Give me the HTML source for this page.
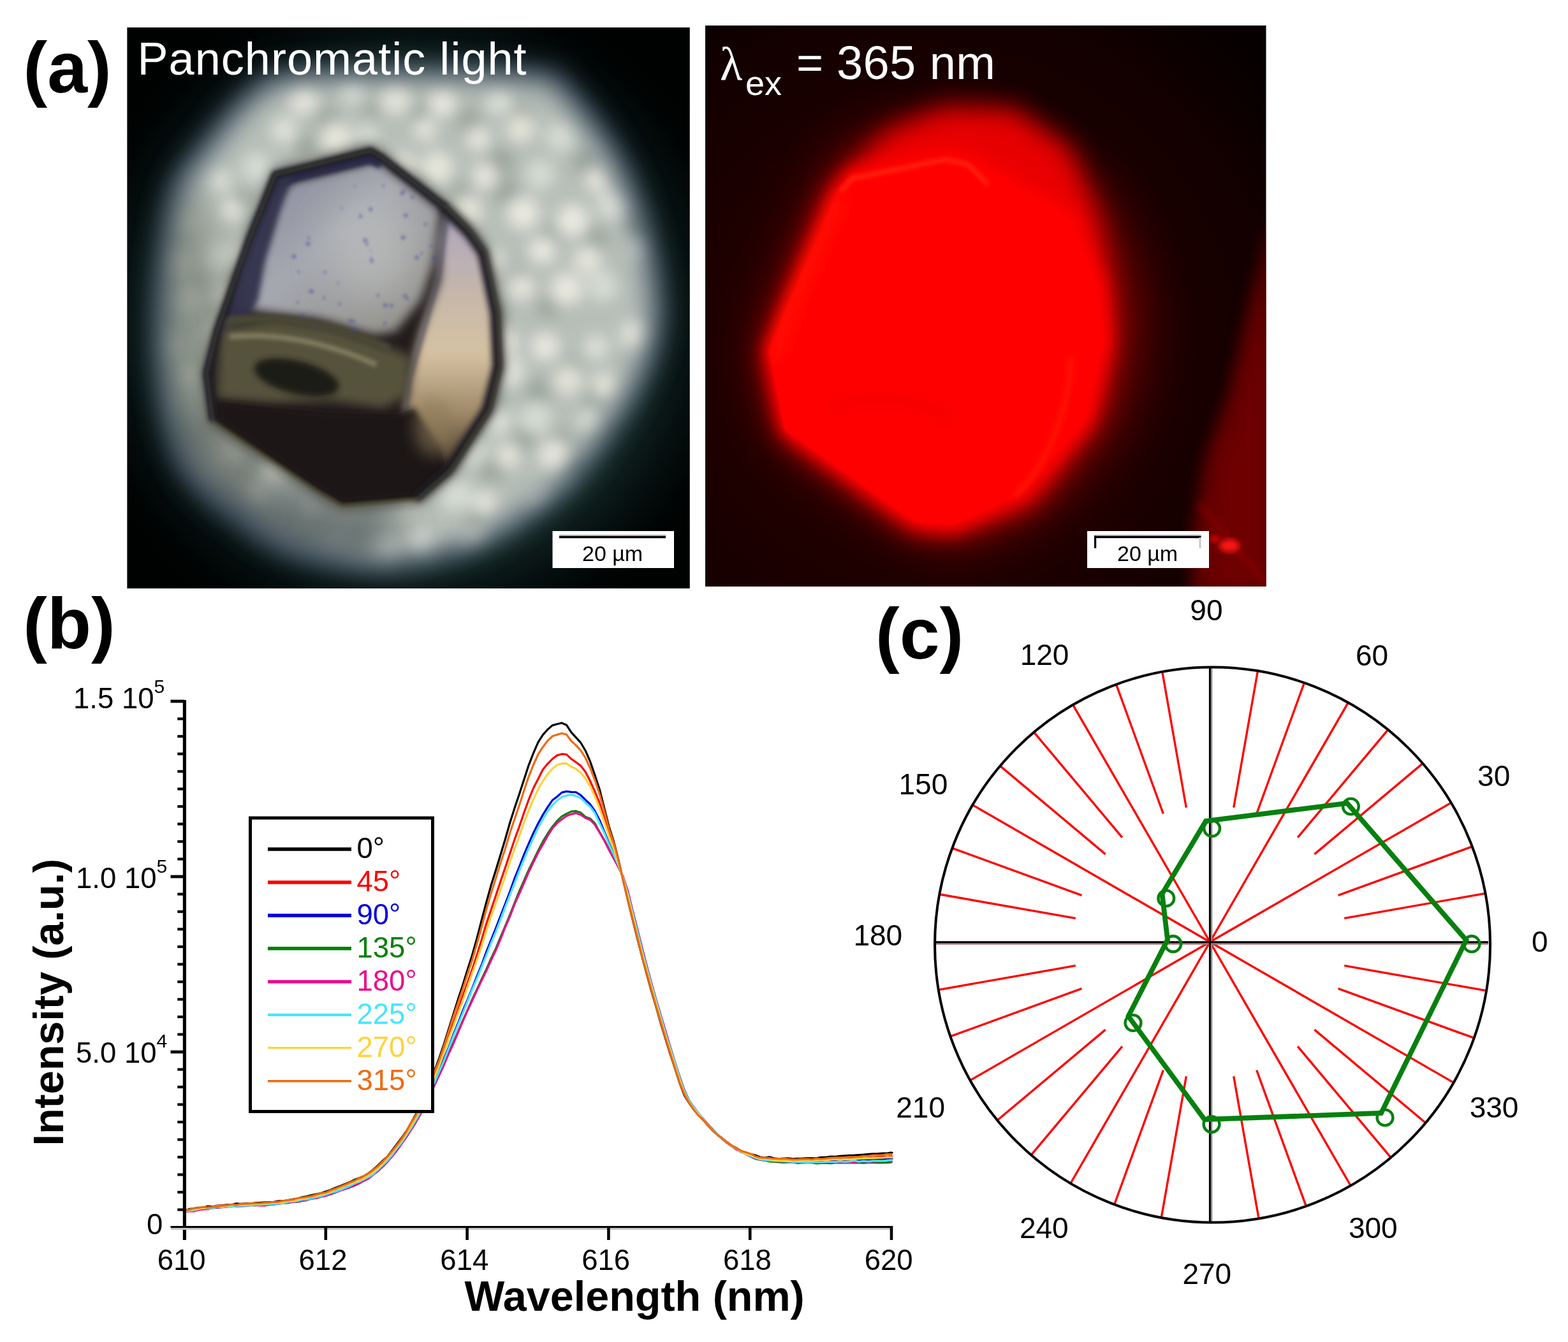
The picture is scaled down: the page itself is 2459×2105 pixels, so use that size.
<!DOCTYPE html>
<html><head><meta charset="utf-8"><title>Figure</title><style>
html,body{margin:0;padding:0;background:#fff;}
svg{display:block;}
text{font-family:"Liberation Sans",Arial,sans-serif;}
.t45{font-size:45.5px;fill:#000;}
.t46{font-size:46px;fill:#000;}
.t34{font-size:34px;fill:#000;}
.sup{font-size:30px;}
.tb66{font-size:66.5px;font-weight:bold;fill:#000;}
.tb112{font-size:113px;font-weight:bold;fill:#000;}
.tw72{font-size:72px;fill:#fff;}
.tw74{font-size:74px;fill:#fff;}
.tw54{font-size:54px;fill:#fff;}
</style></head>
<body>
<svg width="2459" height="2105" viewBox="0 0 2459 2105">
<defs>
<clipPath id="clipL"><rect x="199.6" y="43.2" width="881.9" height="879.8"/></clipPath>
<clipPath id="clipR"><rect x="1106" y="40" width="879.5" height="880"/></clipPath>
<filter id="b2" x="-20%" y="-20%" width="140%" height="140%"><feGaussianBlur stdDeviation="2"/></filter>
<filter id="b3" x="-20%" y="-20%" width="140%" height="140%"><feGaussianBlur stdDeviation="3"/></filter>
<filter id="b5" x="-20%" y="-20%" width="140%" height="140%"><feGaussianBlur stdDeviation="5"/></filter>
<filter id="b8" x="-20%" y="-20%" width="140%" height="140%"><feGaussianBlur stdDeviation="8"/></filter>
<filter id="b12" x="-30%" y="-30%" width="160%" height="160%"><feGaussianBlur stdDeviation="12"/></filter>
<filter id="b20" x="-50%" y="-50%" width="200%" height="200%"><feGaussianBlur stdDeviation="20"/></filter>
<filter id="b30" x="-50%" y="-50%" width="200%" height="200%"><feGaussianBlur stdDeviation="30"/></filter>
<filter id="b45" x="-50%" y="-50%" width="200%" height="200%"><feGaussianBlur stdDeviation="45"/></filter>
<radialGradient id="hazeL" gradientUnits="userSpaceOnUse" cx="640" cy="500" r="560">
  <stop offset="0.6" stop-color="#1a3430"/><stop offset="0.7" stop-color="#10221f"/><stop offset="0.8" stop-color="#061010"/><stop offset="0.9" stop-color="#010404"/><stop offset="1" stop-color="#000101"/>
</radialGradient>
<mask id="diskMask" maskUnits="userSpaceOnUse" x="199" y="43" width="883" height="881">
  <path d="M456.9 128.8 C497.8 122.0 576.8 122.8 640.0 122.8 C703.2 122.8 796.4 124.5 836.0 128.8 C875.6 133.0 858.6 129.7 877.6 148.6 C896.6 167.4 930.9 210.8 949.9 241.6 C968.8 272.5 980.7 303.0 991.5 333.7 C1002.2 364.4 1009.6 395.2 1014.2 425.8 C1018.8 456.3 1023.8 486.3 1019.2 516.8 C1014.6 547.4 1001.8 578.7 986.5 608.9 C971.2 639.1 945.2 673.2 927.1 698.0 C909.0 722.8 895.8 740.1 877.6 757.4 C859.5 774.7 839.2 787.8 818.2 802.0 C797.2 816.1 777.0 831.6 751.9 842.5 C726.8 853.4 695.8 861.7 667.7 867.3 C639.7 872.9 618.7 879.0 583.6 876.2 C548.4 873.4 492.0 863.8 456.9 850.5 C421.7 837.1 395.3 812.3 372.7 796.0 C350.1 779.7 335.4 768.8 321.2 752.5 C307.0 736.1 296.8 723.6 287.6 698.0 C278.3 672.4 270.1 632.0 265.8 599.0 C261.5 566.0 261.3 533.0 261.8 500.0 C262.3 467.0 264.5 434.0 268.8 401.0 C273.0 368.0 277.2 329.2 287.6 302.0 C298.0 274.8 313.3 260.8 331.1 237.6 C348.9 214.5 373.5 181.5 394.5 163.4 C415.4 145.2 415.9 135.5 456.9 128.8 Z" fill="#fff" filter="url(#b20)"/>
</mask>
<linearGradient id="upperG" x1="0" y1="0" x2="1" y2="1">
  <stop offset="0" stop-color="#7e8094"/><stop offset="0.45" stop-color="#a6a8b0"/><stop offset="1" stop-color="#8e8c82"/>
</linearGradient>
<linearGradient id="rightFace" x1="0" y1="0" x2="0" y2="1">
  <stop offset="0" stop-color="#aea6c0"/><stop offset="0.3" stop-color="#c4b6aa"/><stop offset="0.55" stop-color="#d6c2a2"/><stop offset="0.8" stop-color="#9c8666"/><stop offset="1" stop-color="#3e3226"/>
</linearGradient>
<radialGradient id="bgR" gradientUnits="userSpaceOnUse" cx="1450" cy="560" r="700">
  <stop offset="0" stop-color="#2a0000"/><stop offset="0.55" stop-color="#1c0000"/><stop offset="0.8" stop-color="#120000"/><stop offset="1" stop-color="#060000"/>
</radialGradient>
</defs>
<rect width="2459" height="2105" fill="#fff"/>
<g clip-path="url(#clipL)">
<rect x="199" y="43" width="883" height="881" fill="#010202"/>
<rect x="199" y="43" width="883" height="881" fill="url(#hazeL)"/>
<path d="M445.8 106.2 C489.1 99.1 573.0 99.9 640.0 99.9 C707.0 99.9 805.9 101.7 847.9 106.2 C889.9 110.8 871.9 107.3 892.0 127.2 C912.1 147.2 948.5 193.2 968.7 225.9 C988.8 258.7 1001.4 291.1 1012.8 323.6 C1024.1 356.2 1032.0 388.9 1036.9 421.2 C1041.8 453.6 1047.1 485.5 1042.2 517.9 C1037.2 550.2 1023.8 583.5 1007.5 615.5 C991.2 647.5 963.8 683.8 944.5 710.0 C925.2 736.2 911.2 754.6 892.0 773.0 C872.8 791.4 851.2 805.2 829.0 820.2 C806.8 835.3 785.2 851.8 758.6 863.3 C732.0 874.8 699.1 883.6 669.4 889.5 C639.6 895.5 617.4 902.0 580.1 899.0 C542.9 896.0 483.0 885.9 445.8 871.7 C408.5 857.5 380.5 831.3 356.5 814.0 C332.5 796.6 316.9 785.1 301.9 767.8 C286.8 750.4 276.0 737.1 266.2 710.0 C256.4 682.9 247.6 640.0 243.1 605.0 C238.5 570.0 238.4 535.0 238.9 500.0 C239.4 465.0 241.7 430.0 246.2 395.0 C250.8 360.0 255.2 318.9 266.2 290.0 C277.2 261.1 293.5 246.2 312.4 221.8 C331.3 197.2 357.4 162.2 379.6 143.0 C401.8 123.8 402.4 113.4 445.8 106.2 Z" fill="#4a5a70" filter="url(#b20)" opacity="0.8"/>
<g mask="url(#diskMask)">
<rect x="199" y="43" width="883" height="881" fill="#b6beb8"/>
<g filter="url(#b12)" opacity="0.7"><circle cx="513" cy="186.7" r="19.4" fill="#8e9a90"/><circle cx="582.6" cy="170.9" r="14.6" fill="#8e9a90"/><circle cx="662.5" cy="178.2" r="20" fill="#8e9a90"/><circle cx="734.8" cy="188.2" r="19.6" fill="#8e9a90"/><circle cx="814" cy="182.8" r="19.2" fill="#8e9a90"/><circle cx="480.4" cy="231.4" r="20.4" fill="#8e9a90"/><circle cx="563.9" cy="242.8" r="18.1" fill="#8e9a90"/><circle cx="784.6" cy="253.4" r="21.8" fill="#8e9a90"/><circle cx="917" cy="253.3" r="19.8" fill="#8e9a90"/><circle cx="385.7" cy="312" r="16" fill="#8e9a90"/><circle cx="521.8" cy="301.7" r="16.2" fill="#8e9a90"/><circle cx="596.2" cy="301.5" r="19.9" fill="#8e9a90"/><circle cx="660.9" cy="282.5" r="16.5" fill="#8e9a90"/><circle cx="722.1" cy="301.9" r="16.8" fill="#8e9a90"/><circle cx="793.7" cy="300.6" r="21" fill="#8e9a90"/><circle cx="401.4" cy="356.5" r="14.5" fill="#8e9a90"/><circle cx="482.7" cy="366.8" r="15.1" fill="#8e9a90"/><circle cx="542.8" cy="385.2" r="15.2" fill="#8e9a90"/><circle cx="627.7" cy="365.3" r="15.5" fill="#8e9a90"/><circle cx="691.6" cy="379.7" r="15.8" fill="#8e9a90"/><circle cx="863.5" cy="372.1" r="16.3" fill="#8e9a90"/><circle cx="932.7" cy="375.1" r="20.6" fill="#8e9a90"/><circle cx="1004.9" cy="353.1" r="21.9" fill="#8e9a90"/><circle cx="308.9" cy="445.3" r="14.8" fill="#8e9a90"/><circle cx="377.5" cy="441.9" r="20.9" fill="#8e9a90"/><circle cx="670.3" cy="418.5" r="17.7" fill="#8e9a90"/><circle cx="755.3" cy="444.7" r="17.7" fill="#8e9a90"/><circle cx="814.2" cy="436.9" r="16.1" fill="#8e9a90"/><circle cx="329.4" cy="496.6" r="20.7" fill="#8e9a90"/><circle cx="475.1" cy="499.9" r="15.2" fill="#8e9a90"/><circle cx="548.4" cy="475.7" r="21.5" fill="#8e9a90"/><circle cx="712.3" cy="508.2" r="16.4" fill="#8e9a90"/><circle cx="777.3" cy="491.1" r="18.8" fill="#8e9a90"/><circle cx="858.9" cy="481.7" r="17.3" fill="#8e9a90"/><circle cx="293.1" cy="575.3" r="17.6" fill="#8e9a90"/><circle cx="384.7" cy="547.3" r="21.1" fill="#8e9a90"/><circle cx="597.5" cy="559.5" r="19.8" fill="#8e9a90"/><circle cx="736.5" cy="567" r="19.6" fill="#8e9a90"/><circle cx="894.4" cy="582.8" r="20.7" fill="#8e9a90"/><circle cx="405.5" cy="645.9" r="18.8" fill="#8e9a90"/><circle cx="468.4" cy="603.8" r="16.8" fill="#8e9a90"/><circle cx="638.3" cy="609.4" r="15.7" fill="#8e9a90"/><circle cx="704.5" cy="627.4" r="21.5" fill="#8e9a90"/><circle cx="778.1" cy="628.9" r="14.2" fill="#8e9a90"/><circle cx="843.7" cy="615.2" r="21.4" fill="#8e9a90"/><circle cx="933" cy="622.5" r="18" fill="#8e9a90"/><circle cx="380.5" cy="687.8" r="16.2" fill="#8e9a90"/><circle cx="435" cy="703.2" r="21.1" fill="#8e9a90"/><circle cx="653.3" cy="683.5" r="17.8" fill="#8e9a90"/><circle cx="821.4" cy="690.3" r="18.8" fill="#8e9a90"/><circle cx="877.7" cy="693.9" r="21.8" fill="#8e9a90"/><circle cx="965.8" cy="699.9" r="15.5" fill="#8e9a90"/><circle cx="396.9" cy="732.5" r="20.5" fill="#8e9a90"/><circle cx="771.5" cy="737.2" r="20.4" fill="#8e9a90"/><circle cx="904.3" cy="740.5" r="21.1" fill="#8e9a90"/><circle cx="745.2" cy="814.1" r="14.4" fill="#8e9a90"/><circle cx="883.3" cy="834.1" r="15" fill="#8e9a90"/><circle cx="950" cy="799.8" r="22" fill="#8e9a90"/><circle cx="642.8" cy="893.8" r="20.2" fill="#8e9a90"/><circle cx="702.6" cy="877.5" r="20.8" fill="#8e9a90"/><circle cx="785.1" cy="887.6" r="21" fill="#8e9a90"/></g>
<g filter="url(#b12)" opacity="0.85"><circle cx="475.9" cy="155.2" r="23.5" fill="#f5f2e8"/><circle cx="552.5" cy="141.8" r="20.6" fill="#e8eae2"/><circle cx="620.3" cy="153.4" r="25.1" fill="#f0eee2"/><circle cx="693.4" cy="159.4" r="23" fill="#f5f2e8"/><circle cx="782.5" cy="157.9" r="20.6" fill="#e8eae2"/><circle cx="445.6" cy="204.6" r="20.9" fill="#e8eae2"/><circle cx="526.7" cy="215.7" r="24.9" fill="#f0eee2"/><circle cx="575.2" cy="211.2" r="18" fill="#dde2da"/><circle cx="666.4" cy="202.3" r="19" fill="#f0eee2"/><circle cx="750.1" cy="218" r="18.5" fill="#f5f2e8"/><circle cx="816" cy="200.8" r="22.9" fill="#f0eee2"/><circle cx="879.7" cy="214.5" r="24" fill="#dde2da"/><circle cx="344.8" cy="283.2" r="18.1" fill="#e8eae2"/><circle cx="402.2" cy="262.2" r="23" fill="#dde2da"/><circle cx="492.8" cy="273.5" r="19.1" fill="#f5f2e8"/><circle cx="566.4" cy="268.6" r="17.3" fill="#dde2da"/><circle cx="631.7" cy="257.9" r="19.1" fill="#f0eee2"/><circle cx="685.4" cy="263.2" r="25.8" fill="#f0eee2"/><circle cx="760.7" cy="275.9" r="19.8" fill="#f5f2e8"/><circle cx="846.8" cy="273.9" r="23.4" fill="#dde2da"/><circle cx="936.2" cy="282.3" r="18.7" fill="#f5f2e8"/><circle cx="283.7" cy="349.8" r="20.1" fill="#dde2da"/><circle cx="362.3" cy="329.9" r="17.2" fill="#f5f2e8"/><circle cx="440" cy="337.1" r="22.3" fill="#dde2da"/><circle cx="507.1" cy="345.7" r="19.1" fill="#f5f2e8"/><circle cx="591" cy="333.4" r="25.1" fill="#f5f2e8"/><circle cx="660" cy="341.7" r="21.2" fill="#f0eee2"/><circle cx="732.6" cy="330.5" r="23.6" fill="#f0eee2"/><circle cx="820.3" cy="334.2" r="25.4" fill="#f5f2e8"/><circle cx="898.1" cy="345.8" r="25.6" fill="#f5f2e8"/><circle cx="961.5" cy="320.9" r="23.7" fill="#e8eae2"/><circle cx="271.4" cy="410.4" r="25.6" fill="#f0eee2"/><circle cx="339.2" cy="402.2" r="21.7" fill="#dde2da"/><circle cx="390.9" cy="403.6" r="22.6" fill="#f5f2e8"/><circle cx="472.7" cy="391.1" r="17.7" fill="#f5f2e8"/><circle cx="545.7" cy="404.6" r="22.2" fill="#e8eae2"/><circle cx="632.5" cy="388.4" r="17.9" fill="#dde2da"/><circle cx="715.6" cy="408" r="20.7" fill="#f5f2e8"/><circle cx="771.9" cy="406.9" r="17.7" fill="#f0eee2"/><circle cx="851" cy="392.7" r="22.1" fill="#f5f2e8"/><circle cx="921.3" cy="407.1" r="22.4" fill="#f0eee2"/><circle cx="1005.9" cy="388.8" r="19.6" fill="#dde2da"/><circle cx="290.6" cy="468.7" r="24.4" fill="#dde2da"/><circle cx="357.8" cy="467.6" r="21.3" fill="#f0eee2"/><circle cx="439.4" cy="465.6" r="25.8" fill="#dde2da"/><circle cx="512" cy="449.8" r="25.4" fill="#f0eee2"/><circle cx="577.6" cy="479.5" r="19.9" fill="#f0eee2"/><circle cx="669.6" cy="474.2" r="23.4" fill="#dde2da"/><circle cx="741.1" cy="452" r="24.1" fill="#f0eee2"/><circle cx="817.9" cy="450.4" r="20.6" fill="#f5f2e8"/><circle cx="888.4" cy="453.5" r="25" fill="#f5f2e8"/><circle cx="945" cy="449.7" r="24" fill="#dde2da"/><circle cx="261" cy="542.7" r="22.6" fill="#f0eee2"/><circle cx="345" cy="516.9" r="24.4" fill="#f0eee2"/><circle cx="390.4" cy="540.6" r="17.8" fill="#f0eee2"/><circle cx="483" cy="536.1" r="19.4" fill="#f5f2e8"/><circle cx="557.6" cy="519.5" r="22.4" fill="#f5f2e8"/><circle cx="612.1" cy="519.6" r="25.1" fill="#dde2da"/><circle cx="703.5" cy="538.6" r="20.3" fill="#f5f2e8"/><circle cx="789.4" cy="536.9" r="21.8" fill="#f5f2e8"/><circle cx="855.1" cy="543.4" r="22.2" fill="#f5f2e8"/><circle cx="935.1" cy="544.3" r="19.1" fill="#e8eae2"/><circle cx="997.7" cy="525.3" r="23.9" fill="#f5f2e8"/><circle cx="293.1" cy="586.6" r="19.5" fill="#e8eae2"/><circle cx="374.5" cy="606" r="25" fill="#dde2da"/><circle cx="426.1" cy="577.7" r="23" fill="#f5f2e8"/><circle cx="517.6" cy="601.3" r="24.8" fill="#dde2da"/><circle cx="596.3" cy="584.2" r="21.7" fill="#e8eae2"/><circle cx="673.7" cy="603" r="18.8" fill="#dde2da"/><circle cx="740.5" cy="589.7" r="24" fill="#f0eee2"/><circle cx="799.2" cy="583.1" r="24.3" fill="#e8eae2"/><circle cx="891.1" cy="595.3" r="24" fill="#f0eee2"/><circle cx="948.2" cy="604.6" r="20.8" fill="#f0eee2"/><circle cx="345.8" cy="658.8" r="23.6" fill="#dde2da"/><circle cx="400.5" cy="672.2" r="21.1" fill="#e8eae2"/><circle cx="484.6" cy="659.8" r="21.9" fill="#dde2da"/><circle cx="554.7" cy="647.2" r="17.6" fill="#f0eee2"/><circle cx="611.5" cy="643.6" r="17.7" fill="#f0eee2"/><circle cx="713.3" cy="657.4" r="20.5" fill="#dde2da"/><circle cx="780.3" cy="660.9" r="20.2" fill="#e8eae2"/><circle cx="840.6" cy="654.9" r="25" fill="#dde2da"/><circle cx="924" cy="662" r="17.6" fill="#e8eae2"/><circle cx="357.9" cy="706.5" r="21.7" fill="#f0eee2"/><circle cx="429.6" cy="734.7" r="20.3" fill="#f5f2e8"/><circle cx="530" cy="707.5" r="19.5" fill="#f0eee2"/><circle cx="593.7" cy="720.3" r="22.4" fill="#f0eee2"/><circle cx="676" cy="734.9" r="22.5" fill="#f5f2e8"/><circle cx="737.6" cy="707.1" r="24.6" fill="#dde2da"/><circle cx="796.8" cy="715.1" r="19.8" fill="#f0eee2"/><circle cx="870.1" cy="713.3" r="25.5" fill="#f5f2e8"/><circle cx="963.3" cy="713.4" r="21.8" fill="#dde2da"/><circle cx="399.5" cy="778.1" r="22.6" fill="#f5f2e8"/><circle cx="488.4" cy="798.6" r="18" fill="#f5f2e8"/><circle cx="540.9" cy="796.8" r="24.1" fill="#f0eee2"/><circle cx="638.8" cy="778.1" r="19.2" fill="#f0eee2"/><circle cx="715" cy="776.5" r="25.5" fill="#dde2da"/><circle cx="760.7" cy="788.6" r="18.9" fill="#f0eee2"/><circle cx="853.2" cy="796.6" r="22.8" fill="#e8eae2"/><circle cx="909.5" cy="773.9" r="21.7" fill="#dde2da"/><circle cx="521.2" cy="844.4" r="21.6" fill="#dde2da"/><circle cx="603.4" cy="859.8" r="22.1" fill="#e8eae2"/><circle cx="659.6" cy="851.6" r="20.1" fill="#e8eae2"/><circle cx="749.6" cy="852.6" r="21.9" fill="#f5f2e8"/><circle cx="820.1" cy="844" r="18.3" fill="#e8eae2"/></g>
<ellipse cx="440" cy="830" rx="190" ry="70" fill="#4e5858" filter="url(#b30)" opacity="0.75"/>
<ellipse cx="280" cy="520" rx="70" ry="230" fill="#6c7468" filter="url(#b30)" opacity="0.6"/>
<ellipse cx="320" cy="740" rx="90" ry="100" fill="#565e5a" filter="url(#b30)" opacity="0.65"/>
</g>
<polygon points="432,274 581,237 598,247 699,325 736,362 760,396 780,491 784,575 767,643 706,738 655,782 537,792 496,768 334,660 324,585 341,518 391,376" fill="#3c3a30" filter="url(#b8)" opacity="0.7" transform="translate(552,515) scale(1.04) translate(-552,-515)"/>
<polygon points="432,274 581,237 598,247 699,325 736,362 760,396 780,491 784,575 767,643 706,738 655,782 537,792 496,768 334,660 324,585 341,518 391,376" fill="#231f1a" filter="url(#b3)"/>
<polygon points="462,284 591,252 690,330 680,410 660,470 620,520 585,525 500,500 420,490 370,480 385,390 430,300" fill="url(#upperG)" filter="url(#b8)"/>
<ellipse cx="585" cy="390" rx="70" ry="80" fill="#c4c6c4" filter="url(#b30)" opacity="0.55"/>
<polyline points="436,285 580,250 598,258" fill="none" stroke="#2a2a48" stroke-width="14" filter="url(#b3)"/>
<polygon points="432,276 462,270 440,330 416,410 405,470 390,500 345,525 391,376" fill="#30304c" filter="url(#b5)" opacity="0.95"/>
<polygon points="700,338 737,372 758,402 775,490 778,575 762,640 706,730 650,720 630,690 640,600 660,520 690,440 690,380" fill="url(#rightFace)" filter="url(#b8)"/>
<polyline points="700,335 690,420 665,515 640,600 630,690" fill="none" stroke="#5a5866" stroke-width="8" filter="url(#b3)" opacity="0.7"/>
<polygon points="345,515 430,500 520,512 600,540 645,560 640,620 600,640 520,628 430,632 340,625" fill="#56523e" filter="url(#b8)"/>
<path d="M345 505 Q 470 485 610 548" fill="none" stroke="#4a4636" stroke-width="14" filter="url(#b3)"/>
<path d="M360 528 Q 470 518 590 572" fill="none" stroke="#a29c78" stroke-width="8" filter="url(#b3)" opacity="0.6"/>
<ellipse cx="465" cy="592" rx="68" ry="26" fill="#1d1a12" filter="url(#b5)" transform="rotate(14 465 592)"/>
<polygon points="340,630 430,640 520,648 620,650 650,640 690,700 700,738 655,778 537,788 498,765 345,660" fill="#1e1914" filter="url(#b5)"/>
<ellipse cx="680" cy="670" rx="30" ry="45" fill="#8c7a58" filter="url(#b12)" opacity="0.6"/>
<g opacity="0.55" filter="url(#b2)"><circle cx="483.2" cy="382.3" r="3.4" fill="#4a4ea0"/><circle cx="676" cy="385.5" r="2" fill="#4a4ea0"/><circle cx="680.8" cy="405.4" r="3.4" fill="#4a4ea0"/><circle cx="468.1" cy="426.7" r="2.1" fill="#4a4ea0"/><circle cx="460.9" cy="402.3" r="3.4" fill="#4a4ea0"/><circle cx="565.5" cy="339.1" r="2.9" fill="#4a4ea0"/><circle cx="661.4" cy="464.7" r="2" fill="#4a4ea0"/><circle cx="639" cy="468.9" r="2.4" fill="#4a4ea0"/><circle cx="633.6" cy="298.4" r="1.9" fill="#4a4ea0"/><circle cx="549.1" cy="503.2" r="2.9" fill="#4a4ea0"/><circle cx="613.8" cy="479.3" r="2.9" fill="#4a4ea0"/><circle cx="474.4" cy="495.2" r="3" fill="#4a4ea0"/><circle cx="509.6" cy="426.8" r="2.4" fill="#4a4ea0"/><circle cx="466.7" cy="474.5" r="2.2" fill="#4a4ea0"/><circle cx="604.3" cy="478.8" r="3.4" fill="#4a4ea0"/><circle cx="581.1" cy="393.1" r="1.5" fill="#4a4ea0"/><circle cx="486" cy="457" r="1.9" fill="#4a4ea0"/><circle cx="581.2" cy="328.3" r="3.1" fill="#4a4ea0"/><circle cx="508.4" cy="467.3" r="2.4" fill="#4a4ea0"/><circle cx="632.3" cy="372.6" r="3.4" fill="#4a4ea0"/><circle cx="575.6" cy="383.4" r="2.3" fill="#4a4ea0"/><circle cx="530" cy="444.6" r="1.8" fill="#4a4ea0"/><circle cx="495.4" cy="511.7" r="1.9" fill="#4a4ea0"/><circle cx="646.4" cy="309.1" r="2.7" fill="#4a4ea0"/><circle cx="484.3" cy="372.9" r="2.2" fill="#4a4ea0"/><circle cx="601" cy="290.9" r="2.1" fill="#4a4ea0"/><circle cx="635.1" cy="464.5" r="3.1" fill="#4a4ea0"/><circle cx="592.7" cy="463.5" r="2.4" fill="#4a4ea0"/><circle cx="532.5" cy="476.7" r="2.3" fill="#4a4ea0"/><circle cx="490.5" cy="509.7" r="1.8" fill="#4a4ea0"/><circle cx="636.4" cy="338" r="3.2" fill="#4a4ea0"/><circle cx="603.6" cy="507.1" r="2.7" fill="#4a4ea0"/><circle cx="653.7" cy="404" r="3.3" fill="#4a4ea0"/><circle cx="554" cy="503.5" r="2.8" fill="#4a4ea0"/><circle cx="671.7" cy="299.9" r="2.2" fill="#4a4ea0"/><circle cx="667.4" cy="351.6" r="2.6" fill="#4a4ea0"/><circle cx="556.5" cy="292.3" r="1.6" fill="#4a4ea0"/><circle cx="572.8" cy="377" r="3.3" fill="#4a4ea0"/><circle cx="535.3" cy="326.3" r="1.7" fill="#4a4ea0"/><circle cx="554.6" cy="516.5" r="3.3" fill="#4a4ea0"/><circle cx="583.1" cy="409.5" r="2.7" fill="#4a4ea0"/><circle cx="630.9" cy="302.9" r="3.4" fill="#4a4ea0"/><circle cx="661.3" cy="397.4" r="2.2" fill="#4a4ea0"/><circle cx="582" cy="405.9" r="2.1" fill="#4a4ea0"/><circle cx="488.7" cy="456.9" r="3.3" fill="#4a4ea0"/></g>
<polyline points="699,325 736,362 760,396 780,491 784,575 767,643 706,738 655,782" fill="none" stroke="#1c1a26" stroke-width="14" stroke-linejoin="round" filter="url(#b5)" transform="translate(-3,0)"/>
<polyline points="334,660 324,585 341,518 391,376 432,274 581,237 598,247 699,325" fill="none" stroke="#1c1a2c" stroke-width="12" stroke-linejoin="round" filter="url(#b3)"/>
<polygon points="432,274 581,237 598,247 699,325 736,362 760,396 780,491 784,575 767,643 706,738 655,782 537,792 496,768 334,660 324,585 341,518 391,376" fill="none" stroke="#7a7a34" stroke-width="2.5" stroke-linejoin="round" filter="url(#b2)" opacity="0.45"/>
</g>
<text x="215.5" y="116.5" class="tw72" letter-spacing="1.05">Panchromatic light</text>
<rect x="866.5" y="833" width="190.5" height="58" fill="#fff"/>
<rect x="877" y="838.5" width="167" height="2.2" fill="#c8c8c8"/>
<rect x="877" y="840.6" width="167" height="3.6" fill="#000"/>
<text x="913" y="879.6" class="t34">20 µm</text>
<g clip-path="url(#clipR)">
<rect x="1105" y="39" width="882" height="882" fill="url(#bgR)"/>
<polygon points="1995,330 1962,470 1930,610 1892,715 1872,830 1868,930 1995,930" fill="#5e0000" filter="url(#b12)" opacity="0.95"/>
<polygon points="1995,420 1968,520 1940,640 1905,730 1890,830 1890,930 1995,930" fill="#780000" filter="url(#b20)" opacity="0.7"/>
<line x1="1880" y1="790" x2="1990" y2="920" stroke="#9a0000" stroke-width="8" filter="url(#b5)" opacity="0.5"/>
<ellipse cx="1928" cy="856" rx="16" ry="10" fill="#ff1414" filter="url(#b5)"/>
<ellipse cx="1905" cy="845" rx="8" ry="6" fill="#e00000" filter="url(#b3)" opacity="0.8"/>
<polygon points="1334,273 1483,243 1518,253 1672,338 1721,447 1731,536 1701,660 1602,774 1493,824 1433,819 1230,675 1205,551 1235,477 1314,298" fill="#ff0000" filter="url(#b45)" opacity="0.6" transform="translate(1490,520) scale(1.08) translate(-1468,-533)"/>
<polygon points="1320,282 1390,205 1480,168 1590,170 1680,232 1722,340 1738,450 1742,540 1718,660 1620,790 1495,838 1430,832 1226,680 1201,551 1232,477 1300,300" fill="#f40000" filter="url(#b20)" opacity="0.92"/>
<polygon points="1334,273 1483,243 1518,253 1672,338 1721,447 1731,536 1701,660 1602,774 1493,824 1433,819 1230,675 1205,551 1235,477 1314,298" fill="#ff0000" filter="url(#b12)" opacity="1" transform="translate(1472,531) scale(1.03) translate(-1468,-533)"/>
<polygon points="1334,273 1483,243 1518,253 1672,338 1721,447 1731,536 1701,660 1602,774 1493,824 1433,819 1230,675 1205,551 1235,477 1314,298" fill="#ff0000" filter="url(#b2)"/>
<polyline points="1318,300 1337,280 1483,250 1518,258 1550,290" fill="none" stroke="#ff3a1a" stroke-width="7" filter="url(#b3)" opacity="0.6"/>
<polyline points="1215,560 1240,485 1320,305" fill="none" stroke="#ff2a10" stroke-width="16" filter="url(#b12)" opacity="0.5"/>
<path d="M1680 560 Q 1670 700 1590 780" fill="none" stroke="#ff3010" stroke-width="8" filter="url(#b5)" opacity="0.45"/>
<path d="M1300 640 Q 1400 600 1500 660" fill="none" stroke="#e80000" stroke-width="30" filter="url(#b12)" opacity="0.35"/>
</g>
<text x="1129" y="124.5" class="tw72" style="font-family:&quot;Liberation Serif&quot;,serif;font-size:73px">λ</text>
<text x="1169" y="148.5" class="tw54">ex</text>
<text x="1249" y="122.5" class="tw72">=</text>
<text x="1312" y="124.3" class="tw74" letter-spacing="0.4">365 nm</text>
<rect x="1705" y="833" width="191" height="58" fill="#fff"/>
<rect x="1716" y="838.5" width="167.5" height="2" fill="#c8c8c8"/>
<rect x="1716" y="840.5" width="167.5" height="3.6" fill="#000"/>
<rect x="1716" y="840.5" width="3.2" height="19.5" fill="#000"/>
<rect x="1880.5" y="843" width="3" height="17" fill="#c8c8c8"/>
<text x="1752" y="880" class="t34">20 µm</text>
<text x="36.6" y="145.3" class="tb112">(a)</text>
<polyline fill="none" stroke="#000000" stroke-width="3.2" stroke-linejoin="round" points="289,1898.7 296.4,1896.7 303.8,1895.7 311.2,1894.4 318.6,1894.3 326,1892 333.4,1892.9 340.8,1891 348.2,1890.8 355.6,1889.8 363,1890 370.4,1887.9 377.8,1888.3 385.2,1887.8 392.6,1888.1 400,1886.7 407.4,1886.7 414.8,1885.9 422.2,1885.7 429.6,1885.3 437,1883.8 444.4,1883.8 451.8,1882.6 459.2,1881.2 466.6,1880.1 474,1877.9 481.4,1876.6 488.8,1874.6 496.2,1873.1 503.6,1871.6 511,1868.9 518.4,1866.4 525.8,1863.3 533.2,1860.4 540.6,1857.5 548,1854.6 555.4,1850.8 562.8,1848 570.2,1845 577.6,1840.5 585,1835 592.4,1828.4 599.8,1821.2 607.2,1814.5 614.6,1805.1 622,1795.3 629.4,1785.4 636.8,1775.3 644.2,1762.3 651.6,1749.1 659,1733.9 666.4,1717 673.8,1698.8 681.2,1680.2 688.6,1660.2 696,1638.4 703.4,1615.1 710.8,1591.5 718.2,1568.1 725.6,1545.5 733,1521.6 740.4,1498.4 747.8,1472.1 755.2,1443.6 762.6,1415.7 770,1389.1 777.4,1365.5 784.8,1341.3 792.2,1316.7 799.6,1290.7 807,1267.6 814.4,1245.6 821.8,1222.8 829.2,1200.1 836.6,1181.1 844,1164.1 851.4,1152.6 858.8,1144.2 866.2,1137.9 873.6,1135.7 881,1134 888.4,1137.2 895.8,1148.6 903.2,1156.7 910.6,1164.8 918,1177.2 925.4,1194.1 932.8,1215.6 940.2,1238 947.6,1267.3 955,1296.5 962.4,1319.4 969.8,1348.5 977.2,1380.5 984.6,1411.8 992,1442 999.4,1471.4 1006.8,1500.4 1014.2,1527.8 1021.6,1554.6 1029,1579.6 1036.4,1605.5 1043.8,1630.1 1051.2,1653.8 1058.6,1676.1 1066,1699.2 1073.4,1718.3 1080.8,1730.4 1088.2,1740.5 1095.6,1749.1 1103,1756.8 1110.4,1765.7 1117.8,1773.5 1125.2,1779.8 1132.6,1786.4 1140,1791.3 1147.4,1797.1 1154.8,1800.8 1162.2,1805.4 1169.6,1807.9 1177,1810.2 1184.4,1812.1 1191.8,1814.7 1199.2,1816.1 1206.6,1814.9 1214,1816.8 1221.4,1817.5 1228.8,1817.2 1236.2,1816.8 1243.6,1817.9 1251,1817.4 1258.4,1817.1 1265.8,1816.5 1273.2,1816.9 1280.6,1816.6 1288,1815.4 1295.4,1815.3 1302.8,1814 1310.2,1814.3 1317.6,1813.4 1325,1812.8 1332.4,1812.3 1339.8,1812.2 1347.2,1811.6 1354.6,1811.1 1362,1810.4 1369.4,1809.9 1376.8,1809.7 1384.2,1809.1 1391.6,1808.8 1399,1807.9 1399,1806.9"/>
<polyline fill="none" stroke="#ff0000" stroke-width="3.2" stroke-linejoin="round" points="289,1898.8 296.4,1897.9 303.8,1895.9 311.2,1896.6 318.6,1894 326,1893.6 333.4,1893.3 340.8,1891.7 348.2,1891.1 355.6,1890.5 363,1890.6 370.4,1890.9 377.8,1889.5 385.2,1888.6 392.6,1889 400,1888.1 407.4,1887.9 414.8,1888 422.2,1886.6 429.6,1886.3 437,1885.2 444.4,1884.6 451.8,1883.8 459.2,1882.1 466.6,1881.1 474,1879.8 481.4,1878.1 488.8,1876.2 496.2,1874.4 503.6,1873.2 511,1871.1 518.4,1869.7 525.8,1864.8 533.2,1863.1 540.6,1860.3 548,1857.7 555.4,1854.1 562.8,1850.1 570.2,1846.9 577.6,1843 585,1837.6 592.4,1831.9 599.8,1823.5 607.2,1817.4 614.6,1808.7 622,1798.3 629.4,1788.5 636.8,1777.4 644.2,1765.4 651.6,1752.8 659,1738.7 666.4,1722.3 673.8,1705.3 681.2,1687.6 688.6,1669.2 696,1649.2 703.4,1627 710.8,1606 718.2,1584.7 725.6,1562.8 733,1542.3 740.4,1520.9 747.8,1498.4 755.2,1474.6 762.6,1449.3 770,1427.2 777.4,1405.2 784.8,1383 792.2,1361.3 799.6,1338.9 807,1316.8 814.4,1296.5 821.8,1274.8 829.2,1254.2 836.6,1236.1 844,1221.7 851.4,1207 858.8,1198.1 866.2,1190.5 873.6,1184.9 881,1182.7 888.4,1183.4 895.8,1190.4 903.2,1195.5 910.6,1201.1 918,1210.6 925.4,1224.8 932.8,1241.3 940.2,1259.7 947.6,1283.7 955,1307.9 962.4,1328.4 969.8,1352.4 977.2,1379.7 984.6,1406.4 992,1437.8 999.4,1467.1 1006.8,1495.8 1014.2,1524.4 1021.6,1549.3 1029,1576.4 1036.4,1601.3 1043.8,1625.6 1051.2,1650.2 1058.6,1672.9 1066,1697.1 1073.4,1716.4 1080.8,1729.5 1088.2,1739.2 1095.6,1748 1103,1756.5 1110.4,1764.7 1117.8,1772.5 1125.2,1779.8 1132.6,1786.1 1140,1791.7 1147.4,1796.9 1154.8,1801.3 1162.2,1806.6 1169.6,1807.9 1177,1811 1184.4,1814.2 1191.8,1815.9 1199.2,1817.4 1206.6,1818.2 1214,1819 1221.4,1819.3 1228.8,1818.9 1236.2,1820.1 1243.6,1819.1 1251,1819.9 1258.4,1819.7 1265.8,1819.3 1273.2,1819.9 1280.6,1819.2 1288,1819.4 1295.4,1817.9 1302.8,1818.6 1310.2,1818.1 1317.6,1817.6 1325,1816.6 1332.4,1816.8 1339.8,1815.9 1347.2,1815.3 1354.6,1817.3 1362,1815.9 1369.4,1816 1376.8,1814.6 1384.2,1814.7 1391.6,1814.3 1399,1813.9 1399,1813.6"/>
<polyline fill="none" stroke="#0000dd" stroke-width="3.2" stroke-linejoin="round" points="289,1901 296.4,1899.3 303.8,1898.1 311.2,1896.2 318.6,1895.9 326,1894.9 333.4,1894.2 340.8,1893.2 348.2,1892.7 355.6,1891.9 363,1891 370.4,1891.6 377.8,1891.2 385.2,1891.2 392.6,1890.1 400,1889.6 407.4,1889.2 414.8,1888.3 422.2,1889 429.6,1887.5 437,1886.7 444.4,1886.3 451.8,1886.1 459.2,1884.5 466.6,1882.7 474,1881.6 481.4,1880.8 488.8,1878.9 496.2,1877 503.6,1875.6 511,1874.1 518.4,1872.2 525.8,1868.1 533.2,1865.7 540.6,1862.8 548,1859.2 555.4,1856.7 562.8,1853.3 570.2,1850.6 577.6,1845.9 585,1840.3 592.4,1835.2 599.8,1827.8 607.2,1819.5 614.6,1811.4 622,1801.7 629.4,1791.4 636.8,1781.3 644.2,1769 651.6,1757.6 659,1744.4 666.4,1729.4 673.8,1713.7 681.2,1697.3 688.6,1680.5 696,1661.2 703.4,1643.4 710.8,1623.2 718.2,1605.2 725.6,1585.9 733,1568.7 740.4,1550.6 747.8,1531.6 755.2,1513.7 762.6,1493.4 770,1474.9 777.4,1456.4 784.8,1437.1 792.2,1418.2 799.6,1398.7 807,1377.8 814.4,1359.5 821.8,1340.3 829.2,1323.2 836.6,1306.5 844,1291.5 851.4,1278 858.8,1266.1 866.2,1255.3 873.6,1249.7 881,1243.1 888.4,1241.4 895.8,1242.3 903.2,1242.6 910.6,1247.1 918,1254.5 925.4,1261.4 932.8,1272 940.2,1286.2 947.6,1304.2 955,1322.3 962.4,1338.9 969.8,1356.4 977.2,1377.1 984.6,1401.4 992,1431.5 999.4,1461.5 1006.8,1489.9 1014.2,1518.5 1021.6,1546.3 1029,1571.5 1036.4,1595.7 1043.8,1621.3 1051.2,1645.7 1058.6,1669.2 1066,1692 1073.4,1712.3 1080.8,1727.1 1088.2,1738.5 1095.6,1747.3 1103,1755.6 1110.4,1764.3 1117.8,1772.3 1125.2,1780.2 1132.6,1786 1140,1792.3 1147.4,1797.7 1154.8,1802.2 1162.2,1805.5 1169.6,1810 1177,1812.4 1184.4,1815.8 1191.8,1817.5 1199.2,1818.3 1206.6,1819.8 1214,1820.3 1221.4,1820.6 1228.8,1821.2 1236.2,1821.1 1243.6,1821.2 1251,1821.6 1258.4,1822.6 1265.8,1822 1273.2,1821.3 1280.6,1821.7 1288,1821 1295.4,1820.8 1302.8,1821.2 1310.2,1820.4 1317.6,1819.7 1325,1819.9 1332.4,1820.1 1339.8,1819.9 1347.2,1820.2 1354.6,1819.1 1362,1819.5 1369.4,1819.1 1376.8,1818.6 1384.2,1818.8 1391.6,1818.3 1399,1817.4 1399,1818.3"/>
<polyline fill="none" stroke="#008000" stroke-width="3.2" stroke-linejoin="round" points="289,1901 296.4,1900 303.8,1898.3 311.2,1898 318.6,1896.5 326,1895.1 333.4,1894.7 340.8,1894.4 348.2,1893.6 355.6,1892.4 363,1892.7 370.4,1891.9 377.8,1891.8 385.2,1891.4 392.6,1890.5 400,1890.8 407.4,1890 414.8,1890.6 422.2,1889.8 429.6,1889 437,1887.8 444.4,1887.5 451.8,1886.7 459.2,1885 466.6,1885.4 474,1883.3 481.4,1882.6 488.8,1879.8 496.2,1879.5 503.6,1876.6 511,1875 518.4,1873.2 525.8,1870.4 533.2,1866.7 540.6,1864.5 548,1862.6 555.4,1860 562.8,1856.2 570.2,1852 577.6,1848.3 585,1842.5 592.4,1837.2 599.8,1829.5 607.2,1822.5 614.6,1813.8 622,1804.6 629.4,1793.9 636.8,1784.2 644.2,1772.6 651.6,1761.1 659,1747.8 666.4,1732.3 673.8,1718 681.2,1702.4 688.6,1686.2 696,1669.9 703.4,1652 710.8,1635.6 718.2,1618.5 725.6,1601.2 733,1585.2 740.4,1568 747.8,1552.1 755.2,1536.1 762.6,1520.5 770,1503.7 777.4,1488.2 784.8,1470.3 792.2,1453 799.6,1435.2 807,1416.3 814.4,1397.9 821.8,1381.1 829.2,1364.3 836.6,1349.4 844,1334.3 851.4,1319.9 858.8,1307.9 866.2,1296.7 873.6,1287.7 881,1280.7 888.4,1276.5 895.8,1272.9 903.2,1272.2 910.6,1274.6 918,1281.2 925.4,1284 932.8,1291.2 940.2,1304.9 947.6,1317.5 955,1331.7 962.4,1346 969.8,1359.7 977.2,1375.4 984.6,1398.7 992,1428.3 999.4,1457.4 1006.8,1486.7 1014.2,1515 1021.6,1542.4 1029,1568.4 1036.4,1593.6 1043.8,1618.7 1051.2,1642.7 1058.6,1666.6 1066,1689.4 1073.4,1710.7 1080.8,1726.1 1088.2,1737.4 1095.6,1746.4 1103,1756.2 1110.4,1764.2 1117.8,1771.5 1125.2,1779.6 1132.6,1785.7 1140,1792.5 1147.4,1798.1 1154.8,1802 1162.2,1806.6 1169.6,1810 1177,1813.9 1184.4,1817.7 1191.8,1819.2 1199.2,1820.3 1206.6,1821.8 1214,1822.3 1221.4,1822.9 1228.8,1823.5 1236.2,1823.1 1243.6,1822.8 1251,1824.4 1258.4,1823.9 1265.8,1823.6 1273.2,1823.7 1280.6,1824.8 1288,1824.3 1295.4,1824.4 1302.8,1824.6 1310.2,1823.9 1317.6,1823.7 1325,1823.8 1332.4,1823.7 1339.8,1824 1347.2,1823.8 1354.6,1824.1 1362,1823.6 1369.4,1823.6 1376.8,1823.8 1384.2,1823.9 1391.6,1823.7 1399,1822.9 1399,1822.9"/>
<polyline fill="none" stroke="#ea0a8c" stroke-width="3.2" stroke-linejoin="round" points="289,1901.2 296.4,1899.7 303.8,1899.9 311.2,1897.7 318.6,1896.8 326,1896.6 333.4,1894.6 340.8,1894 348.2,1893.6 355.6,1892.8 363,1891.9 370.4,1891.9 377.8,1891.5 385.2,1891.6 392.6,1890.3 400,1890.4 407.4,1890.9 414.8,1890.9 422.2,1888.9 429.6,1889.3 437,1887.9 444.4,1887.2 451.8,1886.3 459.2,1885.5 466.6,1885 474,1883.6 481.4,1881.9 488.8,1880.3 496.2,1878.9 503.6,1877.3 511,1875.8 518.4,1872.8 525.8,1870.5 533.2,1867.8 540.6,1865.2 548,1862.5 555.4,1859.4 562.8,1856.5 570.2,1852.2 577.6,1848.8 585,1843.1 592.4,1837 599.8,1830.3 607.2,1822.9 614.6,1814.2 622,1805 629.4,1794.7 636.8,1784.1 644.2,1772.8 651.6,1760.9 659,1748.4 666.4,1733.6 673.8,1717.8 681.2,1702.6 688.6,1686.8 696,1671 703.4,1653.4 710.8,1637.3 718.2,1619.7 725.6,1602.3 733,1585.2 740.4,1569.8 747.8,1553.7 755.2,1538.1 762.6,1523 770,1506.6 777.4,1490.8 784.8,1473.4 792.2,1454.6 799.6,1437.7 807,1418.2 814.4,1401.8 821.8,1384.8 829.2,1367.7 836.6,1352.2 844,1337.3 851.4,1324.4 858.8,1311.2 866.2,1299.5 873.6,1291.1 881,1285.3 888.4,1280 895.8,1277.1 903.2,1275.4 910.6,1278 918,1283 925.4,1285.9 932.8,1293.5 940.2,1305.6 947.6,1318.3 955,1333 962.4,1346.2 969.8,1359.8 977.2,1375.2 984.6,1397.7 992,1428.1 999.4,1457.1 1006.8,1486.3 1014.2,1515.4 1021.6,1542.3 1029,1568.2 1036.4,1593.1 1043.8,1617.3 1051.2,1642.8 1058.6,1665.9 1066,1689.7 1073.4,1710.2 1080.8,1727.3 1088.2,1736.8 1095.6,1746.8 1103,1755.2 1110.4,1763.7 1117.8,1772.6 1125.2,1779.7 1132.6,1785.3 1140,1791.6 1147.4,1797.7 1154.8,1803.2 1162.2,1805.6 1169.6,1809.9 1177,1814.1 1184.4,1816.9 1191.8,1818.9 1199.2,1819.8 1206.6,1820.2 1214,1821.2 1221.4,1821.8 1228.8,1821.3 1236.2,1821.9 1243.6,1823 1251,1822.8 1258.4,1822.7 1265.8,1822.9 1273.2,1822.7 1280.6,1823.5 1288,1823.7 1295.4,1823.8 1302.8,1823.1 1310.2,1823.1 1317.6,1823.3 1325,1823.4 1332.4,1823.2 1339.8,1823 1347.2,1822 1354.6,1821.4 1362,1822.4 1369.4,1821.8 1376.8,1821.6 1384.2,1821 1391.6,1820.6 1399,1821.6 1399,1821.2"/>
<polyline fill="none" stroke="#44e6ff" stroke-width="3.2" stroke-linejoin="round" points="289,1900.2 296.4,1899.5 303.8,1898.2 311.2,1896.7 318.6,1895 326,1895.6 333.4,1894.9 340.8,1892.9 348.2,1893.6 355.6,1892.1 363,1892.9 370.4,1891.6 377.8,1890.8 385.2,1891.1 392.6,1890.3 400,1890 407.4,1889.6 414.8,1889.1 422.2,1889 429.6,1888.5 437,1887.6 444.4,1887.4 451.8,1885.1 459.2,1884.4 466.6,1883.8 474,1881.6 481.4,1881.4 488.8,1879.5 496.2,1877.6 503.6,1876.2 511,1873.8 518.4,1870.9 525.8,1869.3 533.2,1866.7 540.6,1863.6 548,1860.6 555.4,1856.5 562.8,1853.7 570.2,1850.2 577.6,1846.4 585,1842 592.4,1835 599.8,1827.9 607.2,1821.1 614.6,1812 622,1801.8 629.4,1792.7 636.8,1781.3 644.2,1770.2 651.6,1757.8 659,1744.7 666.4,1730.2 673.8,1713.9 681.2,1698 688.6,1680.8 696,1664.2 703.4,1645.3 710.8,1625.8 718.2,1607.9 725.6,1589.7 733,1571.2 740.4,1552.7 747.8,1535.1 755.2,1517.2 762.6,1498.5 770,1479.5 777.4,1461.9 784.8,1442.8 792.2,1423 799.6,1404.2 807,1385.1 814.4,1365.9 821.8,1347.9 829.2,1330.4 836.6,1313.8 844,1298.3 851.4,1285 858.8,1272.5 866.2,1262.8 873.6,1255.7 881,1250.2 888.4,1247.9 895.8,1246.6 903.2,1248.4 910.6,1251.6 918,1258.9 925.4,1265.4 932.8,1275.3 940.2,1290.9 947.6,1306.5 955,1324.4 962.4,1340 969.8,1357.1 977.2,1376.7 984.6,1401.9 992,1431.3 999.4,1460.6 1006.8,1490.4 1014.2,1518.1 1021.6,1544.7 1029,1570.1 1036.4,1595.8 1043.8,1620.9 1051.2,1644.7 1058.6,1667.3 1066,1691.5 1073.4,1712.3 1080.8,1727 1088.2,1737.6 1095.6,1746.6 1103,1755.5 1110.4,1764.9 1117.8,1772.5 1125.2,1779.1 1132.6,1786.6 1140,1791.9 1147.4,1798.4 1154.8,1801.9 1162.2,1806 1169.6,1809.7 1177,1813.2 1184.4,1816.1 1191.8,1818.4 1199.2,1819.7 1206.6,1820.2 1214,1820.8 1221.4,1821 1228.8,1821.7 1236.2,1822 1243.6,1822.4 1251,1822.6 1258.4,1822.9 1265.8,1823.2 1273.2,1822.8 1280.6,1822.9 1288,1822.9 1295.4,1822.5 1302.8,1822.5 1310.2,1822.6 1317.6,1821.6 1325,1822.5 1332.4,1821.9 1339.8,1820.4 1347.2,1822.2 1354.6,1821.2 1362,1821.9 1369.4,1820.8 1376.8,1820.9 1384.2,1821 1391.6,1820.1 1399,1819.7 1399,1820.1"/>
<polyline fill="none" stroke="#ffd23a" stroke-width="3.2" stroke-linejoin="round" points="289,1900 296.4,1898 303.8,1897.1 311.2,1896.3 318.6,1894.8 326,1894.2 333.4,1893.4 340.8,1891.8 348.2,1892.3 355.6,1891.5 363,1890.4 370.4,1890.1 377.8,1890 385.2,1889.3 392.6,1888.9 400,1888 407.4,1888.5 414.8,1887.9 422.2,1887.4 429.6,1886 437,1886.7 444.4,1885.2 451.8,1883.9 459.2,1883.9 466.6,1881.7 474,1879.7 481.4,1878.7 488.8,1876.3 496.2,1876.1 503.6,1873.7 511,1871.5 518.4,1869.8 525.8,1865.8 533.2,1864 540.6,1860 548,1857.6 555.4,1854.1 562.8,1851.9 570.2,1848.4 577.6,1843.4 585,1838.9 592.4,1832.2 599.8,1825.5 607.2,1817.2 614.6,1808.1 622,1798.5 629.4,1789.2 636.8,1779.3 644.2,1766.9 651.6,1753.7 659,1740.5 666.4,1724.1 673.8,1707.4 681.2,1690 688.6,1671.5 696,1651.6 703.4,1630.3 710.8,1610.3 718.2,1589.5 725.6,1569.7 733,1548.4 740.4,1527 747.8,1506.2 755.2,1484.3 762.6,1460.4 770,1438.1 777.4,1417 784.8,1396 792.2,1374.4 799.6,1352.1 807,1332.2 814.4,1310.9 821.8,1290.5 829.2,1271 836.6,1253.8 844,1237.6 851.4,1224.8 858.8,1214.5 866.2,1205.7 873.6,1200 881,1197.5 888.4,1197.6 895.8,1202.5 903.2,1205.9 910.6,1212 918,1221.1 925.4,1232.8 932.8,1248.8 940.2,1267.2 947.6,1288.9 955,1311.5 962.4,1331.1 969.8,1353.4 977.2,1378.5 984.6,1405.6 992,1436 999.4,1466.6 1006.8,1495 1014.2,1522.5 1021.6,1549 1029,1574.4 1036.4,1600.1 1043.8,1625.1 1051.2,1648.3 1058.6,1672.2 1066,1694.8 1073.4,1715.5 1080.8,1728.9 1088.2,1740 1095.6,1747.8 1103,1756.3 1110.4,1765 1117.8,1773.3 1125.2,1780.3 1132.6,1785.7 1140,1792.1 1147.4,1797.2 1154.8,1801.6 1162.2,1805.3 1169.6,1809.6 1177,1811.7 1184.4,1814.2 1191.8,1816.9 1199.2,1817.9 1206.6,1818.5 1214,1819.4 1221.4,1819.8 1228.8,1820.2 1236.2,1820.8 1243.6,1820.7 1251,1820.5 1258.4,1820.6 1265.8,1820.5 1273.2,1820.6 1280.6,1819.8 1288,1819.2 1295.4,1819.8 1302.8,1818.8 1310.2,1818.3 1317.6,1819 1325,1818.3 1332.4,1818.6 1339.8,1817.8 1347.2,1817.3 1354.6,1816.9 1362,1816.9 1369.4,1816.7 1376.8,1816.1 1384.2,1816 1391.6,1815 1399,1815.4 1399,1814.6"/>
<polyline fill="none" stroke="#f06a10" stroke-width="3.2" stroke-linejoin="round" points="289,1898.4 296.4,1897.7 303.8,1895.3 311.2,1894.6 318.6,1893.2 326,1894.4 333.4,1893.2 340.8,1892.7 348.2,1891.3 355.6,1890.7 363,1889.2 370.4,1890.1 377.8,1888.3 385.2,1888.1 392.6,1887.8 400,1887.2 407.4,1887.5 414.8,1886.6 422.2,1886.1 429.6,1885.4 437,1885.3 444.4,1883.5 451.8,1882.6 459.2,1881.7 466.6,1879.5 474,1878.5 481.4,1877.5 488.8,1876.1 496.2,1873.9 503.6,1871.7 511,1870.5 518.4,1867.2 525.8,1864.4 533.2,1861.6 540.6,1858.5 548,1855.2 555.4,1852.3 562.8,1848.2 570.2,1844.9 577.6,1840.8 585,1835.6 592.4,1829.7 599.8,1822.5 607.2,1814.7 614.6,1806 622,1796.8 629.4,1787 636.8,1775.8 644.2,1762 651.6,1750.7 659,1734.4 666.4,1718.1 673.8,1701.4 681.2,1682.2 688.6,1663.8 696,1641.9 703.4,1618.5 710.8,1595.2 718.2,1573.6 725.6,1551.8 733,1528.8 740.4,1506.3 747.8,1480.9 755.2,1454.2 762.6,1426.8 770,1401.9 777.4,1378.2 784.8,1354 792.2,1331.8 799.6,1306.8 807,1284.4 814.4,1263 821.8,1240 829.2,1217.8 836.6,1199.5 844,1183 851.4,1171.7 858.8,1161.9 866.2,1154.8 873.6,1152.4 881,1150.3 888.4,1152.1 895.8,1162.2 903.2,1169.2 910.6,1176.9 918,1188.5 925.4,1204.5 932.8,1223.3 940.2,1245.2 947.6,1271.9 955,1300 962.4,1321.7 969.8,1348.8 977.2,1380.1 984.6,1411.3 992,1441 999.4,1470 1006.8,1500.1 1014.2,1526.6 1021.6,1552.9 1029,1578.9 1036.4,1603.8 1043.8,1628.6 1051.2,1652.2 1058.6,1675.4 1066,1698.6 1073.4,1716.5 1080.8,1730 1088.2,1740.9 1095.6,1750 1103,1756.3 1110.4,1765.5 1117.8,1773.8 1125.2,1780 1132.6,1786 1140,1792.5 1147.4,1796.9 1154.8,1801.3 1162.2,1804.9 1169.6,1807.5 1177,1809.7 1184.4,1813.7 1191.8,1815.7 1199.2,1816.2 1206.6,1816.7 1214,1817.5 1221.4,1817.7 1228.8,1817.4 1236.2,1818 1243.6,1818.9 1251,1818.6 1258.4,1818.1 1265.8,1817.9 1273.2,1818.7 1280.6,1817.2 1288,1818 1295.4,1817.2 1302.8,1816.1 1310.2,1815.9 1317.6,1815.7 1325,1815.4 1332.4,1814.9 1339.8,1815 1347.2,1814.3 1354.6,1813.3 1362,1813 1369.4,1812.2 1376.8,1812 1384.2,1811.8 1391.6,1810.3 1399,1810.9 1399,1810.8"/>
<line x1="289.4" y1="1098" x2="289.4" y2="1945" stroke="#000" stroke-width="5.2"/>
<line x1="267.5" y1="1924.5" x2="1399.5" y2="1924.5" stroke="#000" stroke-width="3"/>
<line x1="268" y1="1927.4" x2="1399" y2="1927.4" stroke="#c6c6c6" stroke-width="3"/>
<line x1="278.3" y1="1897.5" x2="289" y2="1897.5" stroke="#000" stroke-width="4.2"/>
<line x1="278.3" y1="1870" x2="289" y2="1870" stroke="#000" stroke-width="4.2"/>
<line x1="278.3" y1="1842.5" x2="289" y2="1842.5" stroke="#000" stroke-width="4.2"/>
<line x1="278.3" y1="1815" x2="289" y2="1815" stroke="#000" stroke-width="4.2"/>
<line x1="278.3" y1="1787.5" x2="289" y2="1787.5" stroke="#000" stroke-width="4.2"/>
<line x1="278.3" y1="1760" x2="289" y2="1760" stroke="#000" stroke-width="4.2"/>
<line x1="278.3" y1="1732.5" x2="289" y2="1732.5" stroke="#000" stroke-width="4.2"/>
<line x1="278.3" y1="1705" x2="289" y2="1705" stroke="#000" stroke-width="4.2"/>
<line x1="278.3" y1="1677.5" x2="289" y2="1677.5" stroke="#000" stroke-width="4.2"/>
<line x1="267.5" y1="1650" x2="289" y2="1650" stroke="#000" stroke-width="4.8"/>
<line x1="278.3" y1="1622.5" x2="289" y2="1622.5" stroke="#000" stroke-width="4.2"/>
<line x1="278.3" y1="1595" x2="289" y2="1595" stroke="#000" stroke-width="4.2"/>
<line x1="278.3" y1="1567.5" x2="289" y2="1567.5" stroke="#000" stroke-width="4.2"/>
<line x1="278.3" y1="1540" x2="289" y2="1540" stroke="#000" stroke-width="4.2"/>
<line x1="278.3" y1="1512.5" x2="289" y2="1512.5" stroke="#000" stroke-width="4.2"/>
<line x1="278.3" y1="1485" x2="289" y2="1485" stroke="#000" stroke-width="4.2"/>
<line x1="278.3" y1="1457.5" x2="289" y2="1457.5" stroke="#000" stroke-width="4.2"/>
<line x1="278.3" y1="1430" x2="289" y2="1430" stroke="#000" stroke-width="4.2"/>
<line x1="278.3" y1="1402.5" x2="289" y2="1402.5" stroke="#000" stroke-width="4.2"/>
<line x1="267.5" y1="1375" x2="289" y2="1375" stroke="#000" stroke-width="4.8"/>
<line x1="278.3" y1="1347.5" x2="289" y2="1347.5" stroke="#000" stroke-width="4.2"/>
<line x1="278.3" y1="1320" x2="289" y2="1320" stroke="#000" stroke-width="4.2"/>
<line x1="278.3" y1="1292.5" x2="289" y2="1292.5" stroke="#000" stroke-width="4.2"/>
<line x1="278.3" y1="1265" x2="289" y2="1265" stroke="#000" stroke-width="4.2"/>
<line x1="278.3" y1="1237.5" x2="289" y2="1237.5" stroke="#000" stroke-width="4.2"/>
<line x1="278.3" y1="1210" x2="289" y2="1210" stroke="#000" stroke-width="4.2"/>
<line x1="278.3" y1="1182.5" x2="289" y2="1182.5" stroke="#000" stroke-width="4.2"/>
<line x1="278.3" y1="1155" x2="289" y2="1155" stroke="#000" stroke-width="4.2"/>
<line x1="278.3" y1="1127.5" x2="289" y2="1127.5" stroke="#000" stroke-width="4.2"/>
<line x1="267.5" y1="1100" x2="289" y2="1100" stroke="#000" stroke-width="4.8"/>
<line x1="510.8" y1="1923" x2="510.8" y2="1945" stroke="#000" stroke-width="4.6"/>
<line x1="732.6" y1="1923" x2="732.6" y2="1945" stroke="#000" stroke-width="4.6"/>
<line x1="954.4" y1="1923" x2="954.4" y2="1945" stroke="#000" stroke-width="4.6"/>
<line x1="1176.2" y1="1923" x2="1176.2" y2="1945" stroke="#000" stroke-width="4.6"/>
<line x1="1398" y1="1923" x2="1398" y2="1945" stroke="#000" stroke-width="4.6"/>
<text x="284.7" y="1991.5" text-anchor="middle" class="t45">610</text>
<text x="506.5" y="1991.5" text-anchor="middle" class="t45">612</text>
<text x="728.3" y="1991.5" text-anchor="middle" class="t45">614</text>
<text x="950.1" y="1991.5" text-anchor="middle" class="t45">616</text>
<text x="1171.9" y="1991.5" text-anchor="middle" class="t45">618</text>
<text x="1393.7" y="1991.5" text-anchor="middle" class="t45">620</text>
<text x="115" y="1111.2" class="t45">1.5 10<tspan class="sup" dy="-24">5</tspan></text>
<text x="119" y="1392.7" class="t45">1.0 10<tspan class="sup" dy="-24">5</tspan></text>
<text x="119" y="1666.7" class="t45">5.0 10<tspan class="sup" dy="-24">4</tspan></text>
<text x="230" y="1936.3" class="t45">0</text>
<text x="728.5" y="2056" class="tb66">Wavelength (nm)</text>
<text transform="translate(99,1797.5) rotate(-90)" class="tb66">Intensity (a.u.)</text>
<rect x="392.5" y="1283" width="286" height="460.5" fill="#fff" stroke="#000" stroke-width="5"/>
<line x1="420" y1="1332" x2="551" y2="1332" stroke="#000000" stroke-width="5.5"/>
<text x="559.5" y="1346" class="t45" style="fill:#000000">0°</text>
<line x1="420" y1="1384" x2="551" y2="1384" stroke="#ff0000" stroke-width="5.5"/>
<text x="559.5" y="1398" class="t45" style="fill:#ff0000">45°</text>
<line x1="420" y1="1435.9" x2="551" y2="1435.9" stroke="#0000dd" stroke-width="5.5"/>
<text x="559.5" y="1449.9" class="t45" style="fill:#0000dd">90°</text>
<line x1="420" y1="1487.8" x2="551" y2="1487.8" stroke="#008000" stroke-width="5.5"/>
<text x="559.5" y="1501.8" class="t45" style="fill:#008000">135°</text>
<line x1="420" y1="1539.8" x2="551" y2="1539.8" stroke="#ea0a8c" stroke-width="5.2"/>
<text x="559.5" y="1553.8" class="t45" style="fill:#ea0a8c">180°</text>
<line x1="420" y1="1591.8" x2="551" y2="1591.8" stroke="#44e6ff" stroke-width="4.2"/>
<text x="559.5" y="1605.8" class="t45" style="fill:#44e6ff">225°</text>
<line x1="420" y1="1643.7" x2="551" y2="1643.7" stroke="#ffd23a" stroke-width="3.2"/>
<text x="559.5" y="1657.7" class="t45" style="fill:#ffd23a">270°</text>
<line x1="420" y1="1695.7" x2="551" y2="1695.7" stroke="#f06a10" stroke-width="3.6"/>
<text x="559.5" y="1709.7" class="t45" style="fill:#f06a10">315°</text>
<text x="36.3" y="1017" class="tb112">(b)</text>
<line x1="2108.2" y1="1440.3" x2="2328" y2="1401.6" stroke="#ff0000" stroke-width="3.4"/>
<line x1="2098.6" y1="1404.3" x2="2307.4" y2="1328.3" stroke="#ff0000" stroke-width="3.4"/>
<line x1="1897.5" y1="1477.5" x2="2274.4" y2="1259.9" stroke="#ff0000" stroke-width="3.4"/>
<line x1="2061.4" y1="1339.9" x2="2230.1" y2="1198.4" stroke="#ff0000" stroke-width="3.4"/>
<line x1="2035.1" y1="1313.6" x2="2175.9" y2="1145.7" stroke="#ff0000" stroke-width="3.4"/>
<line x1="1897.5" y1="1477.5" x2="2113.5" y2="1103.3" stroke="#ff0000" stroke-width="3.4"/>
<line x1="1970.7" y1="1276.4" x2="2044.9" y2="1072.4" stroke="#ff0000" stroke-width="3.4"/>
<line x1="1934.7" y1="1266.8" x2="1972.2" y2="1053.8" stroke="#ff0000" stroke-width="3.4"/>
<line x1="1860.3" y1="1266.8" x2="1823" y2="1055.2" stroke="#ff0000" stroke-width="3.4"/>
<line x1="1824.3" y1="1276.4" x2="1751" y2="1074.9" stroke="#ff0000" stroke-width="3.4"/>
<line x1="1897.5" y1="1477.5" x2="1683.4" y2="1106.8" stroke="#ff0000" stroke-width="3.4"/>
<line x1="1759.9" y1="1313.6" x2="1622.4" y2="1149.6" stroke="#ff0000" stroke-width="3.4"/>
<line x1="1733.6" y1="1339.9" x2="1569.6" y2="1202.4" stroke="#ff0000" stroke-width="3.4"/>
<line x1="1897.5" y1="1477.5" x2="1526.6" y2="1263.4" stroke="#ff0000" stroke-width="3.4"/>
<line x1="1696.4" y1="1404.3" x2="1494.7" y2="1330.9" stroke="#ff0000" stroke-width="3.4"/>
<line x1="1686.8" y1="1440.3" x2="1474.8" y2="1403" stroke="#ff0000" stroke-width="3.4"/>
<line x1="1686.8" y1="1514.7" x2="1473.2" y2="1552.3" stroke="#ff0000" stroke-width="3.4"/>
<line x1="1696.4" y1="1550.7" x2="1491.8" y2="1625.2" stroke="#ff0000" stroke-width="3.4"/>
<line x1="1897.5" y1="1477.5" x2="1522.7" y2="1693.9" stroke="#ff0000" stroke-width="3.4"/>
<line x1="1733.6" y1="1615.1" x2="1565.2" y2="1756.3" stroke="#ff0000" stroke-width="3.4"/>
<line x1="1759.9" y1="1641.4" x2="1618" y2="1810.6" stroke="#ff0000" stroke-width="3.4"/>
<line x1="1897.5" y1="1477.5" x2="1679.6" y2="1855" stroke="#ff0000" stroke-width="3.4"/>
<line x1="1824.3" y1="1678.6" x2="1748.1" y2="1888" stroke="#ff0000" stroke-width="3.4"/>
<line x1="1860.3" y1="1688.2" x2="1821.5" y2="1908.6" stroke="#ff0000" stroke-width="3.4"/>
<line x1="1934.7" y1="1688.2" x2="1973.8" y2="1909.9" stroke="#ff0000" stroke-width="3.4"/>
<line x1="1970.7" y1="1678.6" x2="2047.8" y2="1890.6" stroke="#ff0000" stroke-width="3.4"/>
<line x1="1897.5" y1="1477.5" x2="2117.4" y2="1858.5" stroke="#ff0000" stroke-width="3.4"/>
<line x1="2035.1" y1="1641.4" x2="2180.3" y2="1814.6" stroke="#ff0000" stroke-width="3.4"/>
<line x1="2061.4" y1="1615.1" x2="2234.5" y2="1760.3" stroke="#ff0000" stroke-width="3.4"/>
<line x1="1897.5" y1="1477.5" x2="2278.3" y2="1697.4" stroke="#ff0000" stroke-width="3.4"/>
<line x1="2098.6" y1="1550.7" x2="2310.3" y2="1627.7" stroke="#ff0000" stroke-width="3.4"/>
<line x1="2108.2" y1="1514.7" x2="2329.5" y2="1553.7" stroke="#ff0000" stroke-width="3.4"/>
<line x1="1467" y1="1480.4" x2="2334" y2="1480.4" stroke="#a87878" stroke-width="2.6"/>
<line x1="1900.2" y1="1047" x2="1900.2" y2="1916" stroke="#8a8a8a" stroke-width="2.2"/>
<line x1="1467" y1="1477.7" x2="2334" y2="1477.7" stroke="#000" stroke-width="3"/>
<line x1="1897.4" y1="1047" x2="1897.4" y2="1916" stroke="#000" stroke-width="3"/>
<circle cx="1901.5" cy="1482" r="435.5" fill="none" stroke="#000" stroke-width="4"/>
<polygon fill="none" stroke="#05800f" stroke-width="7.8" stroke-linejoin="miter" points="2299.4,1474.6 2112.6,1259.8 1891,1288 1822.5,1402 1831,1474 1769.5,1594 1889,1756 2166,1746"/>
<circle cx="2308" cy="1480.7" r="12.4" fill="none" stroke="#05800f" stroke-width="4.4"/>
<circle cx="2118.4" cy="1265" r="12.4" fill="none" stroke="#05800f" stroke-width="4.4"/>
<circle cx="1900.6" cy="1299.5" r="12.4" fill="none" stroke="#05800f" stroke-width="4.4"/>
<circle cx="1828.8" cy="1409" r="12.4" fill="none" stroke="#05800f" stroke-width="4.4"/>
<circle cx="1839.8" cy="1480.6" r="12.4" fill="none" stroke="#05800f" stroke-width="4.4"/>
<circle cx="1777" cy="1604.5" r="12.4" fill="none" stroke="#05800f" stroke-width="4.4"/>
<circle cx="1900" cy="1763.6" r="12.4" fill="none" stroke="#05800f" stroke-width="4.4"/>
<circle cx="2172" cy="1753" r="12.4" fill="none" stroke="#05800f" stroke-width="4.4"/>
<text x="1891.9" y="972.7" text-anchor="middle" class="t46">90</text>
<text x="1638" y="1043.1" text-anchor="middle" class="t46">120</text>
<text x="2151.6" y="1043.6" text-anchor="middle" class="t46">60</text>
<text x="1447.9" y="1246" text-anchor="middle" class="t46">150</text>
<text x="2342.7" y="1232.6" text-anchor="middle" class="t46">30</text>
<text x="1376.8" y="1482.5" text-anchor="middle" class="t46">180</text>
<text x="2414.8" y="1492.5" text-anchor="middle" class="t46">0</text>
<text x="1443.6" y="1753" text-anchor="middle" class="t46">210</text>
<text x="2343" y="1753" text-anchor="middle" class="t46">330</text>
<text x="1637.3" y="1942" text-anchor="middle" class="t46">240</text>
<text x="2153.3" y="1942" text-anchor="middle" class="t46">300</text>
<text x="1892.8" y="2014.2" text-anchor="middle" class="t46">270</text>
<text x="1373" y="1033.1" class="tb112">(c)</text>
</svg>
</body></html>
